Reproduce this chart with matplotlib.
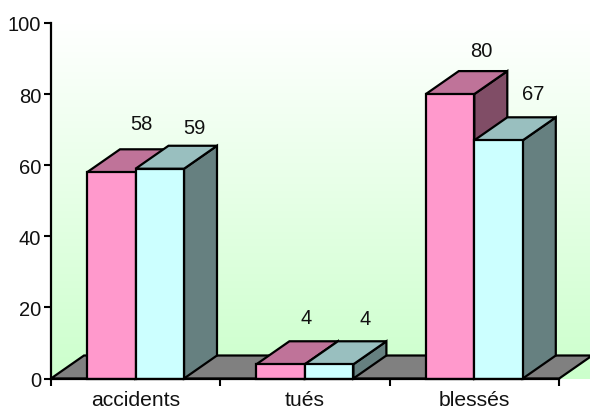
import numpy as np
import matplotlib
matplotlib.use('Agg')
import matplotlib.pyplot as plt
from matplotlib.patches import Polygon

plt.rcParams['font.family'] = ['Liberation Sans', 'DejaVu Sans']

# values
categories = ['accidents', 'tués', 'blessés']
series_a = [58, 4, 80]
series_b = [59, 4, 67]
y_ticks = [0, 20, 40, 60, 80, 100]
title_text = 'Evolution 2003'

W, H = 590, 410
left, bottom, top = 51, 379.5, 24
cat_w = 169.4
depth_x = 33 / cat_w       # in category units
depth_y = 23 / 3.555       # in value units
bar_w = 48.5 / cat_w
gap = 36 / cat_w

# label nudges in pixels, the labels are not placed evenly in the original
nudge_a = [(-3, 26), (-8, 24), (-2, 21)]
nudge_b = [(2, 18), (3, 23), (2, 24)]

fig = plt.figure(figsize=(W / 100, H / 100), dpi=100)
ax = fig.add_axes([left / W, (H - bottom) / H, (W - left) / W, (bottom - top) / H])
ax.set_xlim(0, (W - left) / cat_w)
ax.set_ylim(0, 100)
ax.patch.set_visible(False)

lw = 1.6
label_size = 14.5


def face(pts, color, z=3):
    ax.add_patch(Polygon(pts, closed=True, facecolor=color, edgecolor='black',
                         linewidth=lw, joinstyle='miter', zorder=z, clip_on=False))


def value_label(xc, val, nudge):
    ax.text(xc + depth_x + nudge[0] / cat_w, val + depth_y + nudge[1] / 3.555, str(val),
            ha='center', va='center', fontsize=label_size, color='#111111', zorder=5)


# back wall gradient, white at top to light green at the floor
t = np.linspace(0, 1, 256)[:, None, None]
grad = t * (np.array([204, 255, 204]) / 255.0) + (1 - t) * np.array([1.0, 1.0, 1.0])
ax.imshow(grad, extent=[0, (W - left) / cat_w, 0, 100], aspect='auto', zorder=0)

# floor
end = len(categories)
floor = [(0, 0), (end, 0), (end + depth_x, depth_y), (depth_x, depth_y)]
face(floor, '#808080', 1)

for i in range(len(categories)):
    x0 = i + gap
    x1 = x0 + bar_w
    x2 = x1 + bar_w
    a, b = series_a[i], series_b[i]
    # series a, drawn first so series b sits in front of its side
    face([(x1, 0), (x1 + depth_x, depth_y), (x1 + depth_x, a + depth_y), (x1, a)], '#804d66')
    face([(x0, a), (x1, a), (x1 + depth_x, a + depth_y), (x0 + depth_x, a + depth_y)], '#bf7399')
    face([(x0, 0), (x1, 0), (x1, a), (x0, a)], '#ff99cc')
    # series b
    face([(x2, 0), (x2 + depth_x, depth_y), (x2 + depth_x, b + depth_y), (x2, b)], '#668080')
    face([(x1, b), (x2, b), (x2 + depth_x, b + depth_y), (x1 + depth_x, b + depth_y)], '#99bfbf')
    face([(x1, 0), (x2, 0), (x2, b), (x1, b)], '#ccffff')
    value_label(x0 + bar_w / 2, a, nudge_a[i])
    value_label(x1 + bar_w / 2, b, nudge_b[i])

for s in ['top', 'right']:
    ax.spines[s].set_visible(False)
ax.spines['left'].set_linewidth(lw)
ax.spines['bottom'].set_linewidth(lw)
ax.spines['bottom'].set_bounds(0, end)
ax.spines['left'].set_zorder(6)
ax.spines['bottom'].set_zorder(6)

ax.set_yticks(y_ticks)
ax.set_xticks(range(end + 1))
ax.set_xticklabels([])
ax.set_xticks(np.arange(end) + 0.5, labels=categories, minor=True)
ax.tick_params(axis='y', labelsize=label_size, length=5, width=1.5, pad=2, labelcolor='#111111')
ax.tick_params(axis='x', which='major', length=5, width=1.5)
ax.tick_params(axis='x', which='minor', length=0, labelsize=15.2, pad=8, labelcolor='#111111')

# title is cut off by the top edge of the image
fig.text(160 / W, 1 + 8 / H, title_text, ha='center', va='center', fontsize=19,
         color='#808080')

fig.savefig('out.png', dpi=100)
